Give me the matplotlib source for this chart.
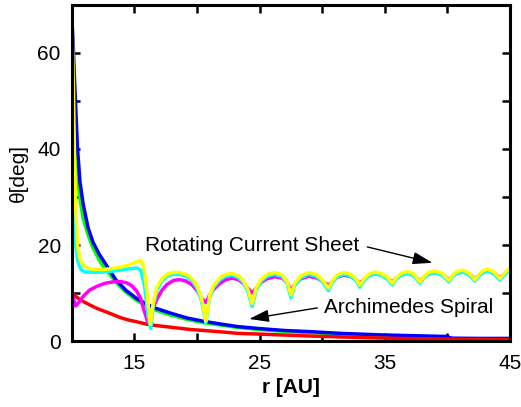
import numpy as np
import matplotlib
matplotlib.use('Agg')
import matplotlib.pyplot as plt

plt.rcParams['font.family'] = ['Liberation Sans', 'DejaVu Sans']
plt.rcParams['font.size'] = 15

# ---- data (r in AU, theta in deg)
# shared r grid for the oscillating current-sheet part
r_arch = [16.5, 16.8, 17.2, 17.6, 18.1, 18.6, 19.1, 19.6, 20.0, 20.35, 20.7,
          21.0, 21.3, 21.8, 22.3, 22.8, 23.3, 23.7, 24.05, 24.4,
          24.7, 25.1, 25.6, 26.2, 26.8, 27.2, 27.5,
          27.8, 28.3, 28.9, 29.5, 30.0, 30.5,
          30.8, 31.2, 31.7, 32.2, 32.7, 33.0,
          33.3, 33.7, 34.2, 34.7, 35.2, 35.6,
          35.9, 36.3, 36.8, 37.3, 37.8,
          38.1, 38.5, 39.0, 39.6, 40.1,
          40.4, 40.7, 41.2, 41.7, 42.2,
          42.5, 42.8, 43.2, 43.7, 44.2,
          44.5, 44.8, 45.0]

r_yellow_head = [10.0, 10.1, 10.2, 10.3, 10.45, 10.6, 10.8, 11.2, 11.8, 12.5, 13.2,
                 13.9, 14.5, 15.0, 15.5, 15.75, 16.0, 16.27]
th_yellow_head = [70, 55, 40, 28, 20, 17.5, 16.2, 15.2, 14.9, 14.9, 15.1,
                  15.4, 15.8, 16.3, 16.8, 15.5, 10.0, 3.5]
th_yellow_arch = [8.0, 11.3, 13.0, 13.9, 14.3, 14.3, 13.9, 13.0, 11.5, 9.0, 4.2,
                  9.5, 11.5, 13.1, 13.9, 14.1, 13.6, 12.6, 10.8, 7.8,
                  11.0, 12.8, 13.9, 14.3, 13.8, 12.3, 9.6,
                  12.0, 13.6, 14.3, 13.9, 12.8, 11.0,
                  12.6, 13.8, 14.3, 14.0, 13.0, 11.6,
                  12.9, 13.9, 14.4, 14.1, 13.3, 12.0,
                  13.2, 14.1, 14.5, 14.0, 12.3,
                  13.4, 14.3, 14.6, 14.1, 12.6,
                  13.6, 14.4, 14.8, 14.2, 12.8,
                  13.8, 14.6, 15.0, 14.4, 13.0,
                  14.0, 14.8, 15.1]

r_cyan_head = [10.0, 10.15, 10.3, 10.45, 10.7, 11.0, 12.0, 13.0, 14.0, 14.7, 15.2,
               15.5, 15.8, 16.1, 16.3]
th_cyan_head = [45, 30, 20, 16.8, 15.0, 14.4, 14.3, 14.5, 14.8, 15.1, 15.2,
                14.8, 11.5, 5.0, 2.6]
th_cyan_arch = [7.5, 10.6, 12.6, 13.5, 13.9, 13.9, 13.5, 12.6, 11.0, 8.4, 3.8,
                9.0, 11.1, 12.7, 13.5, 13.7, 13.2, 12.2, 10.3, 7.2,
                10.5, 12.4, 13.5, 13.9, 13.4, 11.9, 9.0,
                11.6, 13.2, 13.9, 13.5, 12.4, 10.5,
                12.2, 13.4, 13.9, 13.6, 12.6, 11.2,
                12.5, 13.5, 14.0, 13.7, 12.9, 11.7,
                12.9, 13.7, 14.1, 13.6, 12.0,
                13.1, 13.9, 14.2, 13.7, 12.3,
                13.3, 14.0, 14.4, 13.8, 12.5,
                13.5, 14.2, 14.6, 14.0, 12.7,
                13.7, 14.4, 14.7]

r_magenta_head = [10.0, 10.15, 10.3, 10.5, 10.9, 11.4, 12.0, 12.6, 13.2, 13.9, 14.4,
                  14.8, 15.2, 15.5, 15.75, 16.05, 16.27]
th_magenta_head = [10.0, 8.5, 7.3, 7.9, 9.3, 10.6, 11.4, 12.0, 12.3, 12.4, 12.1,
                   11.5, 10.3, 8.8, 6.5, 4.0, 5.5]
th_magenta_arch = [7.0, 8.8, 10.6, 11.8, 12.6, 12.8, 12.5, 11.7, 10.5, 9.0, 8.0,
                   9.6, 10.7, 12.0, 12.8, 13.1, 12.8, 12.0, 11.0, 10.0,
                   11.0, 12.2, 13.0, 13.4, 13.1, 12.2, 10.6,
                   11.8, 13.0, 13.5, 13.2, 12.5, 11.6,
                   12.4, 13.3, 13.7, 13.5, 12.8, 12.0,
                   12.8, 13.6, 14.0, 13.8, 13.1, 12.3,
                   13.1, 13.8, 14.2, 13.8, 12.5,
                   13.3, 14.0, 14.3, 13.9, 12.8,
                   13.5, 14.1, 14.5, 14.0, 13.0,
                   13.7, 14.3, 14.7, 14.2, 13.2,
                   13.9, 14.5, 14.8]

r_blue = [10.0, 10.1, 10.2, 10.3, 10.45, 10.65, 10.9, 11.3, 11.7, 12.2, 12.8, 13.5,
          14.3, 15.2, 16.5, 17.9, 19.2, 20.55, 22.0, 23.3, 25.0, 27.0, 29.1, 31.5,
          34.5, 37.5, 40.0, 40.3, 42.5, 45.0]
th_blue = [67, 62, 55, 49, 40, 33, 28.5, 23.5, 20.5, 18.0, 15.6, 12.8,
           10.6, 8.8, 7.0, 5.8, 4.8, 4.1, 3.5, 3.0, 2.6, 2.2, 1.95, 1.6,
           1.3, 1.1, 0.95, 0.6, 0.55, 0.55]

r_green = [10.0, 10.15, 10.3, 10.45, 10.65, 10.9, 11.3, 11.7, 12.3, 12.8, 13.5,
           14.3, 15.2, 16.5, 17.9, 19.2, 20.55, 22.0, 23.3, 25.0, 27.0, 29.1,
           31.5, 34.5, 37.5, 40.0, 40.3, 45.0]
th_green = [55, 47, 40, 34, 29.4, 25.5, 22.0, 19.3, 16.3, 14.6, 12.3,
            10.2, 8.4, 6.6, 5.4, 4.5, 3.8, 3.3, 2.8, 2.4, 2.0, 1.75,
            1.45, 1.15, 0.95, 0.8, 0.5, 0.45]

r_red = [10.0, 10.5, 11.0, 11.45, 12.0, 12.5, 13.2, 13.86, 14.5, 15.2, 16.0, 16.5,
         17.5, 18.5, 19.5, 20.55, 22.0, 23.25, 25.0, 27.0, 29.0, 31.0, 33.5,
         36.0, 38.5, 40.1, 45.0]
th_red = [10.0, 8.9, 8.1, 7.5, 6.8, 6.3, 5.6, 4.9, 4.4, 4.0, 3.5, 3.3,
          3.0, 2.7, 2.4, 2.2, 1.9, 1.6, 1.45, 1.25, 1.05, 0.9, 0.7,
          0.55, 0.45, 0.4, 0.3]

xticks_major = [15, 25, 35, 45]
xticks_minor = [20, 30, 40]
yticks_major = [0, 20, 40, 60]
yticks_minor = [10, 30, 50]

# ---- figure
fig = plt.figure(figsize=(5.21, 4.07), dpi=100)
ax = fig.add_axes([0.138, 0.162, 0.841, 0.826])

lw = 2.5
ax.plot(r_green, th_green, color='#00ff00', lw=lw)
ax.plot(r_blue, th_blue, color='#0000ff', lw=lw)
ax.plot(r_red, th_red, color='#ff0000', lw=lw)
ax.plot(r_magenta_head + r_arch, th_magenta_head + th_magenta_arch, color='#ff00ff', lw=lw)
ax.plot(r_cyan_head + r_arch, th_cyan_head + th_cyan_arch, color='#00ffff', lw=lw)
ax.plot(r_yellow_head + r_arch, th_yellow_head + th_yellow_arch, color='#ffff00', lw=lw)

ax.set_xlim(10, 45)
ax.set_ylim(0, 70)
ax.set_xticks(xticks_major)
ax.set_xticks(xticks_minor, minor=True)
ax.set_yticks(yticks_major)
ax.set_yticks(yticks_minor, minor=True)
ax.tick_params(which='both', direction='in', top=True, right=True, length=6, width=1.8)
ax.tick_params(axis='x', which='major', pad=9)
ax.tick_params(axis='y', which='major', pad=8)
for s in ax.spines.values():
    s.set_linewidth(2.2)

ax.set_xlabel('r [AU]', fontweight='bold', labelpad=4)
ax.set_ylabel('θ[deg]', labelpad=7)

arr = dict(arrowstyle='-|>,head_length=0.8,head_width=0.25', color='k', lw=1,
           shrinkA=0, shrinkB=0, mutation_scale=15)
ax.text(15.87, 20.0, 'Rotating Current Sheet', ha='left', va='center')
ax.annotate('', xy=(38.8, 16.3), xytext=(33.6, 19.6), arrowprops=arr)
ax.text(30.1, 6.9, 'Archimedes Spiral', ha='left', va='center')
ax.annotate('', xy=(24.16, 4.6), xytext=(29.6, 6.9), arrowprops=arr)

fig.savefig('out.png', dpi=100)
